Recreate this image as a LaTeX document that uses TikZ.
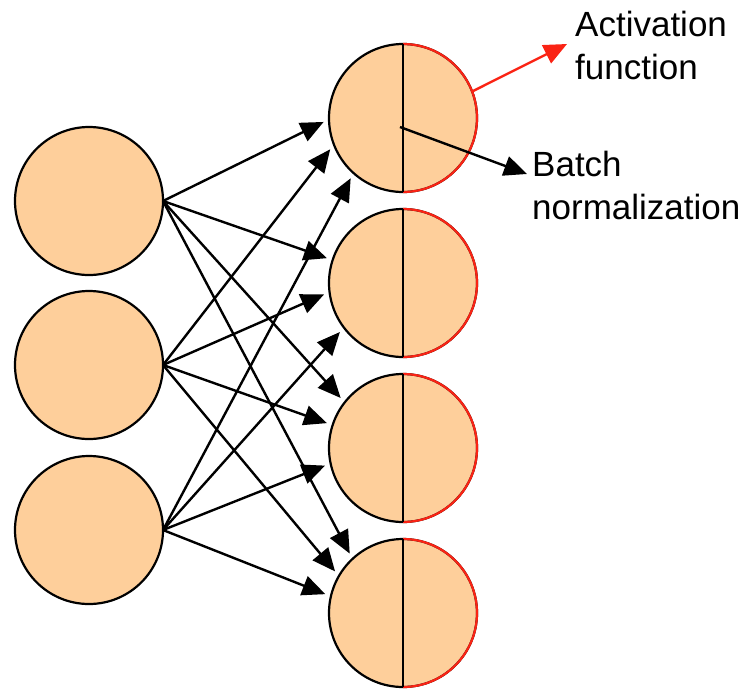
\documentclass[tikz,border=0pt]{standalone}
\usepackage{fontspec}
\setmainfont{Liberation Sans}
\usetikzlibrary{arrows.meta}
\definecolor{neuron}{RGB}{254,207,155}
\definecolor{actred}{RGB}{250,35,20}

\begin{document}
\begin{tikzpicture}[x=1pt, y=-1pt,
		unit/.style={circle, draw, line width=2.2pt, fill=neuron, minimum size=148pt, inner sep=0pt, outer sep=0pt},
		link/.style={line width=2.4pt, -{Triangle[length=23pt, width=20pt]}},
		note/.style={font=\fontsize{35}{43}\selectfont, align=left, inner sep=0pt, anchor=north west}]
		\useasboundingbox (0,0) rectangle (751,689);
		% input layer
		\node [unit] (L1) at (89,201) {};
		\node [unit] (L2) at (89,365) {};
		\node [unit] (L3) at (89,530) {};
		% hidden layer, right half is the activation
		\node [unit] (R1) at (403,118) {};
		\node [unit] (R2) at (403,283) {};
		\node [unit] (R3) at (403,448) {};
		\node [unit] (R4) at (403,613) {};
		\foreach \r in {R1,R2,R3,R4} {
			\draw [actred, line width=2.2pt] (\r.north) arc [start angle=90, end angle=-90, radius=74pt];
			\draw [line width=2.2pt] (\r.north) -- (\r.south);
		}
		% weights
		\foreach \s/\t/\a in {L1/R1/181, L2/R1/201, L3/R1/228,
				L1/R2/162, L2/R2/187, L3/R2/217,
				L1/R3/142, L2/R3/162, L3/R3/192,
				L1/R4/133, L2/R4/150, L3/R4/167}
			\draw [link, shorten >=6pt] (\s.east) -- (\t.\a);
		% labels
		\node [note] (act) at (575,11) {Activation\\function};
		\node [note] (bn) at (532,151) {Batch\\normalization};
		\coordinate (acttip) at (567,44);
		\coordinate (bnfrom) at (400,127);
		\coordinate (bntip) at (527,174);
		\draw [link, actred] (R1.21.5) -- (acttip);
		\draw [link] (bnfrom) -- (bntip);
	\end{tikzpicture}
\end{document}
